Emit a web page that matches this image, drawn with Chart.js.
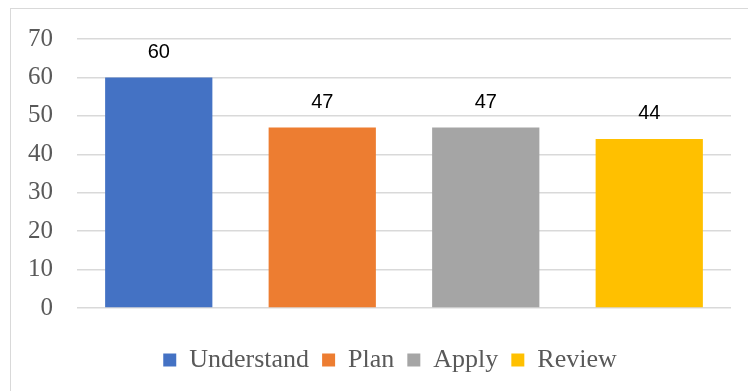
<!DOCTYPE html>
<html>
<head>
<meta charset="utf-8">
<script src="https://cdn.jsdelivr.net/npm/chart.js@4"></script>
<style>
  html, body { margin: 0; padding: 0; background: #fff; overflow: hidden; }
  #wrap { position: relative; width: 748px; height: 391px; }
  #frame { position: absolute; left: 10px; top: 8px; width: 800px; height: 400px; border: 1.5px solid #d9d9d9; box-sizing: border-box; }
  canvas { position: absolute; left: 0; top: 0; }
</style>
</head>
<body>
<div id="wrap">
  <div id="frame"></div>
  <canvas id="chart" width="748" height="391"></canvas>
</div>
<script>
const categories = ["Understand", "Plan", "Apply", "Review"];
const values = [60, 47, 47, 44];
const barColors = ["#4472C4", "#ED7D31", "#A5A5A5", "#FFC000"];
const yTicks = [0, 10, 20, 30, 40, 50, 60, 70];

// draws the number above each bar, like excel data labels
const barLabels = {
    id: "barLabels",
    afterDatasetsDraw(chart) {
        const ctx = chart.ctx;
        ctx.save();
        ctx.font = "20px 'Liberation Sans', Arial, sans-serif";
        ctx.fillStyle = "#000";
        ctx.textAlign = "center";
        ctx.textBaseline = "middle";
        chart.data.datasets.forEach((ds, i) => {
            const meta = chart.getDatasetMeta(i);
            meta.data.forEach((bar, j) => {
                if (ds.data[j] == null) return;
                ctx.fillText(ds.data[j], bar.x, bar.y - 25);
            });
        });
        ctx.restore();
    }
};

// excel centres the legend a bit right of the canvas middle
const legendShift = {
    id: "legendShift",
    afterLayout(chart) {
        chart.legend.left += 16;
        chart.legend.right += 16;
    }
};

// one dataset per category so the legend gets one entry each
const datasets = categories.map((c, i) => ({
    label: c,
    data: categories.map((_, j) => j === i ? values[i] : null),
    backgroundColor: barColors[i],
    borderWidth: 0,
    categoryPercentage: 0.656,
    barPercentage: 1,
    skipNull: true
}));

new Chart(document.getElementById("chart"), {
    type: "bar",
    data: { labels: categories, datasets: datasets },
    plugins: [barLabels, legendShift],
    options: {
        responsive: false,
        animation: false,
        layout: { padding: { left: 0, right: 0, top: 37, bottom: 8 } },
        scales: {
            x: {
                stacked: true,
                grid: { display: false },
                border: { display: false },
                ticks: { display: false },
                afterFit: s => { s.height = 26; }
            },
            y: {
                min: 0,
                max: 70,
                afterBuildTicks: s => { s.ticks = yTicks.map(v => ({ value: v })); },
                grid: { color: "#d9d9d9", lineWidth: 1.5, drawTicks: false },
                border: { display: false },
                ticks: {
                    padding: 24,
                    color: "#595959",
                    font: { family: "'Liberation Serif', 'Times New Roman', serif", size: 25 }
                },
                afterFit: s => { s.width = 77; }
            },
            yr: {
                position: "right",
                min: 0,
                max: 1,
                grid: { display: false },
                border: { display: false },
                ticks: { display: false },
                afterFit: s => { s.width = 17; }
            }
        },
        plugins: {
            legend: {
                position: "bottom",
                labels: {
                    boxWidth: 13,
                    boxHeight: 13,
                    padding: 13,
                    color: "#595959",
                    font: { family: "'Liberation Serif', 'Times New Roman', serif", size: 26, lineHeight: 1.2 }
                }
            },
            tooltip: { enabled: false }
        }
    }
});
</script>
</body>
</html>
